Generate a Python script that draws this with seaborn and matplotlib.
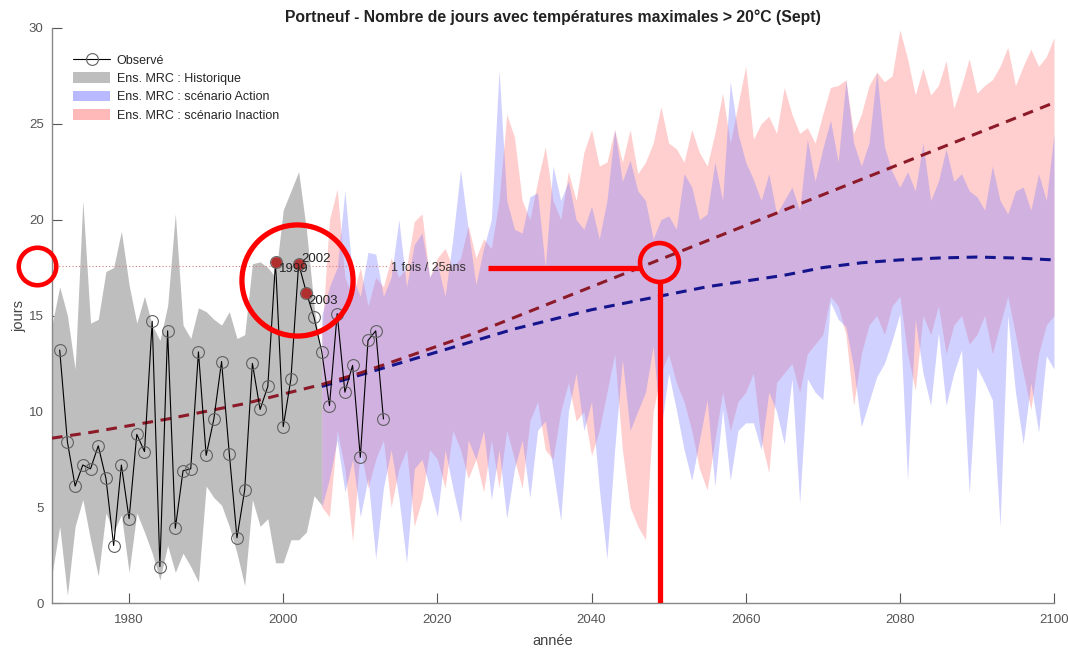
import numpy as np
import pandas as pd
import matplotlib
matplotlib.use("Agg")
import matplotlib.pyplot as plt
import seaborn as sns
from matplotlib.patches import Patch
from matplotlib.lines import Line2D

# Observed series 1971-2013
obs_years = list(range(1971, 2014))
obs_values = [13.2, 8.4, 6.1, 7.2, 7.0, 8.2, 6.5, 3.0, 7.2, 4.4,
              8.8, 7.9, 14.7, 1.9, 14.2, 3.9, 6.9, 7.0, 13.1, 7.7,
              9.6, 12.6, 7.8, 3.4, 5.9, 12.5, 10.1, 11.3, 17.8, 9.2,
              11.7, 17.7, 16.2, 14.9, 13.1, 10.3, 15.1, 11.0, 12.4, 7.6,
              13.7, 14.2, 9.6]

# Highlighted years
hl_years = [1999, 2002, 2003]
hl_values = [17.8, 17.7, 16.2]

# Historical ensemble envelope 1970-2005
hist_years = list(range(1970, 2006))
hist_hi = [14.5, 16.5, 15.0, 12.2, 21.0, 14.6, 14.8, 17.3, 17.5, 19.4,
           16.6, 14.6, 16.0, 14.5, 13.7, 15.5, 20.3, 14.5, 13.8, 15.4,
           15.2, 14.8, 14.5, 15.2, 13.8, 14.0, 17.7, 17.8, 17.5, 17.0,
           20.5, 21.5, 22.5, 19.5, 15.5, 12.5]
hist_lo = [1.5, 4.0, 0.4, 4.0, 5.4, 3.3, 1.4, 4.7, 3.7, 4.6,
           1.6, 4.7, 3.7, 2.6, 1.2, 3.0, 1.6, 2.6, 1.9, 1.1,
           6.1, 5.5, 5.1, 4.0, 2.6, 0.9, 5.4, 4.0, 4.4, 2.1,
           2.1, 3.3, 3.3, 3.7, 5.6, 5.1]

# Scenario envelopes 2005-2100
scen_years = list(range(2005, 2101))
action_hi = [15.0, 16.5, 17.5, 21.5, 17.0, 16.0, 18.3, 18.2, 16.0, 17.0,
             20.0, 16.5, 18.7, 19.3, 17.0, 17.7, 16.0, 19.0, 22.6, 19.5,
             16.6, 18.5, 20.0, 27.8, 21.0, 19.5, 19.3, 21.2, 21.4, 17.5,
             22.8, 21.0, 22.0, 20.0, 19.5, 20.7, 19.0, 21.0, 24.7, 22.0,
             23.1, 21.5, 21.0, 19.0, 20.0, 20.2, 19.5, 22.4, 21.7, 20.0,
             20.3, 23.0, 21.0, 27.2, 24.5, 23.0, 22.1, 21.0, 22.4, 20.3,
             21.0, 21.7, 20.5, 24.2, 22.0, 23.7, 25.2, 23.0, 27.3, 24.0,
             22.8, 24.0, 27.7, 23.8, 22.5, 21.7, 22.5, 21.5, 24.0, 21.0,
             22.0, 23.7, 22.0, 22.4, 21.5, 21.2, 20.5, 22.8, 21.0, 20.3,
             21.5, 21.7, 20.5, 22.4, 21.0, 24.5]
action_lo = [5.0, 6.5, 8.5, 5.8, 7.5, 4.5, 6.5, 2.3, 6.0, 8.0,
             5.5, 2.1, 7.0, 7.5, 6.0, 4.5, 8.0, 6.0, 4.2, 8.5,
             7.5, 9.0, 5.4, 8.0, 4.4, 7.0, 8.5, 5.5, 9.0, 9.5,
             7.0, 4.3, 10.0, 12.0, 9.0, 10.5, 6.0, 2.3, 8.0, 12.7,
             9.0, 10.0, 11.0, 13.4, 9.0, 12.0, 10.1, 8.0, 6.4, 8.5,
             10.6, 6.1, 10.1, 6.4, 9.0, 9.4, 9.4, 8.0, 11.0, 10.0,
             8.3, 11.7, 5.2, 11.7, 11.0, 10.6, 15.7, 14.8, 14.4, 12.3,
             9.2, 10.5, 11.8, 12.5, 13.7, 15.1, 6.4, 14.8, 12.0, 10.3,
             14.1, 10.3, 12.0, 13.2, 5.7, 12.3, 11.5, 10.6, 4.0, 15.0,
             11.0, 8.3, 11.5, 8.9, 12.9, 12.2]
inaction_hi = [14.0, 20.0, 21.6, 17.0, 16.0, 17.5, 15.5, 17.0, 16.5, 18.0,
               17.0, 17.5, 19.9, 20.3, 17.0, 18.0, 18.5, 17.5, 18.0, 19.7,
               18.0, 19.0, 18.5, 21.0, 25.5, 24.3, 21.0, 20.0, 22.0, 23.8,
               21.0, 20.0, 22.5, 21.0, 23.5, 24.7, 22.8, 23.0, 24.7, 23.0,
               24.7, 22.4, 23.0, 24.0, 25.9, 24.0, 23.7, 23.0, 24.7, 23.5,
               22.8, 24.5, 26.6, 24.0, 26.0, 28.0, 24.2, 25.0, 25.4, 24.5,
               26.9, 25.5, 24.5, 24.8, 24.0, 25.5, 26.9, 27.0, 27.3, 24.5,
               25.5, 27.0, 27.7, 27.2, 27.5, 29.9, 28.4, 26.5, 27.9, 26.5,
               27.0, 28.3, 25.8, 27.0, 28.4, 26.6, 27.0, 27.3, 28.0, 29.0,
               27.0, 28.0, 28.9, 28.0, 28.5, 29.5]
inaction_lo = [5.0, 4.5, 9.0, 7.0, 3.2, 8.0, 6.0, 7.5, 8.5, 5.0,
               7.0, 8.0, 4.0, 5.4, 8.0, 7.5, 6.0, 9.0, 8.0, 6.5,
               7.5, 5.8, 8.5, 6.0, 9.0, 7.5, 6.0, 9.5, 10.5, 8.0,
               7.5, 10.0, 11.5, 9.5, 10.0, 7.7, 9.0, 11.0, 13.0, 8.0,
               5.0, 4.0, 3.3, 10.0, 12.0, 13.0, 11.5, 10.5, 9.0, 7.0,
               5.9, 8.5, 11.0, 9.0, 10.5, 11.0, 12.0, 8.5, 6.8, 11.5,
               12.0, 12.5, 11.0, 13.0, 13.5, 14.0, 16.0, 15.5, 14.0, 10.3,
               13.0, 14.5, 15.0, 14.0, 15.5, 16.0, 13.0, 11.1, 15.0, 14.0,
               15.5, 13.0, 14.5, 15.0, 13.5, 14.0, 15.0, 13.0, 14.5, 16.0,
               14.0, 12.0, 10.1, 13.0, 14.5, 15.0]

# Trend lines
trend_red_years = list(range(1970, 2101, 5))
trend_red = [8.6, 8.9, 9.25, 9.6, 10.0, 10.4, 10.9, 11.4, 12.0, 12.7,
             13.4, 14.1, 14.9, 15.7, 16.5, 17.3, 18.1, 18.9, 19.7, 20.5,
             21.3, 22.1, 22.9, 23.7, 24.5, 25.3, 26.1]
trend_blue_years = list(range(2005, 2101, 5))
trend_blue = [11.3, 11.9, 12.5, 13.1, 13.7, 14.3, 14.8, 15.3, 15.7, 16.1,
              16.5, 16.8, 17.1, 17.5, 17.75, 17.9, 18.0, 18.05, 18.0, 17.9]

threshold = 17.6

sns.set_theme(style="ticks")
plt.rcParams['font.family'] = ['Liberation Sans', 'DejaVu Sans']

fig = plt.figure(figsize=(10.68, 6.52), dpi=100)
ax = fig.add_axes([52 / 1068, 49 / 652, 1002 / 1068, 575 / 652])

# Envelopes
ax.fill_between(hist_years, hist_lo, hist_hi, color="#bebebe", lw=0, zorder=1)
ax.fill_between(scen_years, inaction_lo, inaction_hi, color=(1, 0.5, 0.5), alpha=0.38, lw=0, zorder=2)
ax.fill_between(scen_years, action_lo, action_hi, color=(0.5, 0.5, 1), alpha=0.36, lw=0, zorder=3)

# Threshold line
ax.plot([1970, 2013.5], [threshold, threshold], ls=(0, (1, 2)), color="#d08080", lw=0.8, zorder=4)
ax.text(2014, threshold - 0.1, "1 fois / 25ans", fontsize=9, color="#333333", va="center", zorder=6)

# Trend lines
sns.lineplot(x=trend_blue_years, y=trend_blue, ax=ax, color="#14148c", lw=2.2,
             zorder=5).lines[-1].set_dashes((3.5, 2.5))
sns.lineplot(x=trend_red_years, y=trend_red, ax=ax, color="#8c1a28", lw=2.2,
             zorder=5).lines[-1].set_dashes((3.5, 2.5))

# Observed
obs_df = pd.DataFrame({"year": obs_years, "val": obs_values})
sns.lineplot(data=obs_df, x="year", y="val", ax=ax, color="black", lw=0.8,
             marker="o", markersize=8.5, markerfacecolor="none",
             markeredgecolor="#606060", markeredgewidth=0.8, zorder=6)
ax.scatter(hl_years, hl_values, s=60, color="#b03030", zorder=7, linewidths=0)
ax.text(1999.4, 17.25, "1999", fontsize=9.5, color="#222222", zorder=8)
ax.text(2002.3, 17.8, "2002", fontsize=9.5, color="#222222", zorder=8)
ax.text(2003.3, 15.6, "2003", fontsize=9.5, color="#222222", zorder=8)

# Red annotation overlays
ax.plot([1968.05], [17.6], marker="o", markersize=27, markerfacecolor="none",
        markeredgecolor="red", markeredgewidth=3.3, clip_on=False, zorder=9)
ax.plot([2001.8], [16.85], marker="o", markersize=80, markerfacecolor="none",
        markeredgecolor="red", markeredgewidth=3.8, clip_on=False, zorder=9)
ax.plot([2048.75], [17.8], marker="o", markersize=28, markerfacecolor="none",
        markeredgecolor="red", markeredgewidth=3.3, clip_on=False, zorder=9)
ax.plot([2026.6, 2046.3], [17.5, 17.5], color="red", lw=3.8, solid_capstyle="butt", zorder=9)
ax.plot([2048.9, 2048.9], [16.75, 0.0], color="red", lw=3.8, solid_capstyle="butt", zorder=9)

ax.set_xlim(1970, 2100)
ax.set_ylim(0, 30)
ax.set_xticks([1980, 2000, 2020, 2040, 2060, 2080, 2100])
ax.set_yticks([0, 5, 10, 15, 20, 25, 30])
ax.tick_params(direction="in", length=7, colors="#555555", labelsize=9.5, width=0.8)
ax.tick_params(axis="x", pad=8)
ax.tick_params(axis="y", pad=6)
for s in ["top", "right"]:
    ax.spines[s].set_visible(False)
for s in ["left", "bottom"]:
    ax.spines[s].set_color("#888888")
    ax.spines[s].set_linewidth(1.0)
ax.set_xlabel("année", fontsize=10.5, color="#444444", labelpad=6)
ax.set_ylabel("jours", fontsize=10.5, color="#444444", labelpad=2)
ax.set_title("Portneuf - Nombre de jours avec températures maximales > 20°C (Sept)",
             fontsize=11.3, fontweight="bold", color="#222222", pad=4)

handles = [
    Line2D([0], [0], color="black", lw=0.8, marker="o", markersize=8.5,
           markerfacecolor="none", markeredgecolor="#606060", markeredgewidth=0.8),
    Patch(facecolor="#bebebe", edgecolor="none"),
    Patch(facecolor=(0.5, 0.5, 1), alpha=0.55, edgecolor="none"),
    Patch(facecolor=(1, 0.5, 0.5), alpha=0.55, edgecolor="none"),
]
labels = ["Observé", "Ens. MRC : Historique", "Ens. MRC : scénario Action",
          "Ens. MRC : scénario Inaction"]
ax.legend(handles, labels, loc="upper left", bbox_to_anchor=(0.012, 0.97),
          frameon=False, fontsize=9, handlelength=3.0, handleheight=0.95,
          handletextpad=0.5, labelspacing=0.45, borderaxespad=0.3)

fig.savefig("out.png", dpi=100)
